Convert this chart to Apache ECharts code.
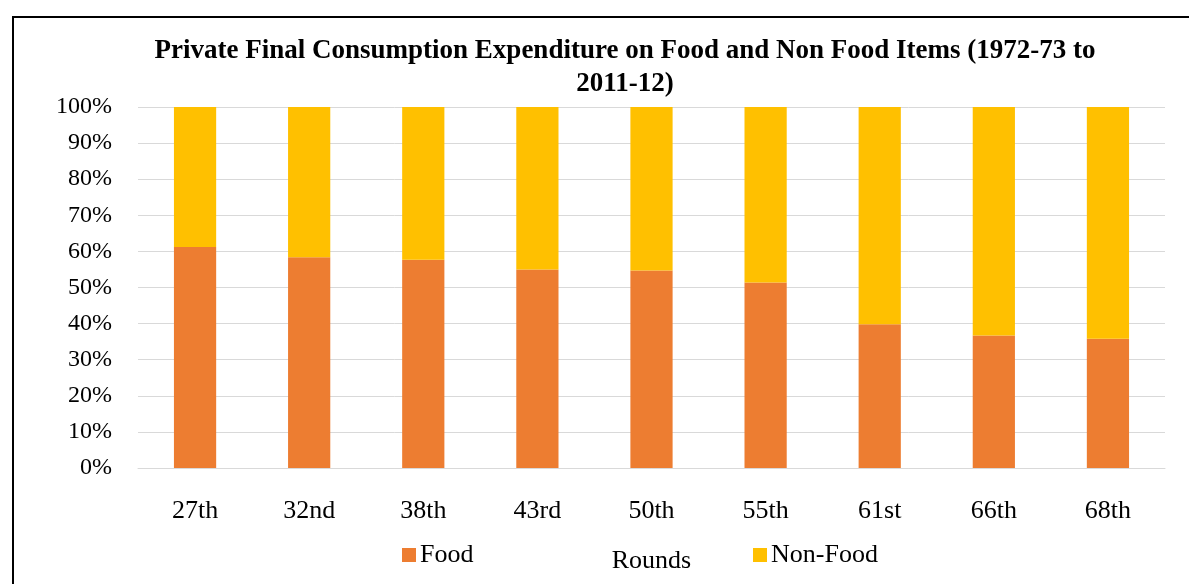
<!DOCTYPE html>
<html>
<head>
<meta charset="utf-8">
<style>
  html, body { margin: 0; padding: 0; background: #fff; }
  #chart { width: 1189px; height: 584px; }
</style>
<script src="https://cdn.jsdelivr.net/npm/echarts@6/dist/echarts.min.js"></script>
</head>
<body>
<div id="chart"></div>
<script>
// NSS rounds and share of consumption expenditure (%)
const rounds = ['27th', '32nd', '38th', '43rd', '50th', '55th', '61st', '66th', '68th'];
const foodShare = [61.2, 58.4, 57.7, 55.0, 54.7, 51.4, 39.8, 36.7, 35.8];
const nonFoodShare = [38.8, 41.6, 42.3, 45.0, 45.3, 48.6, 60.2, 63.3, 64.2];
const yTicks = [0, 10, 20, 30, 40, 50, 60, 70, 80, 90, 100];

const serif = '"Liberation Serif", "Times New Roman", serif';
const chart = echarts.init(document.getElementById('chart'));

const legendText = { fontFamily: serif, fontSize: 26, color: '#000', padding: [0, 0, 0, -1] };

chart.setOption({
  animation: false,
  backgroundColor: '#ffffff',
  title: {
    text: 'Private Final Consumption Expenditure on Food and Non Food Items (1972-73 to\n2011-12)',
    left: 620,
    textAlign: 'center',
    top: 30,
    textStyle: {
      fontFamily: serif,
      fontWeight: 'bold',
      fontSize: 27,
      lineHeight: 33,
      color: '#000'
    }
  },
  legend: [
    {
      data: ['Food'],
      left: 402,
      top: 542,
      padding: 0,
      itemWidth: 14,
      itemHeight: 14,
      itemGap: 4,
      icon: 'rect',
      textStyle: legendText
    },
    {
      data: ['Non-Food'],
      left: 753,
      top: 542,
      padding: 0,
      itemWidth: 14,
      itemHeight: 14,
      icon: 'rect',
      textStyle: legendText
    }
  ],
  grid: {
    left: 138,
    right: 24,
    top: 107,
    bottom: 116,
    containLabel: false
  },
  xAxis: {
    type: 'category',
    data: rounds,
    name: 'Rounds',
    nameLocation: 'middle',
    nameGap: 80,
    nameTextStyle: { fontFamily: serif, fontSize: 26, color: '#000' },
    axisLine: { lineStyle: { color: '#d9d9d9', width: 1 } },
    axisTick: { show: false },
    axisLabel: {
      fontFamily: serif,
      fontSize: 26,
      color: '#000',
      margin: 30
    }
  },
  yAxis: {
    type: 'value',
    min: 0,
    max: 100,
    interval: 10,
    axisLine: { show: false },
    axisTick: { show: false },
    splitLine: { lineStyle: { color: '#d9d9d9', width: 1 } },
    axisLabel: {
      fontFamily: serif,
      fontSize: 24,
      color: '#000',
      margin: 26,
      padding: [6, 0, 0, 0],
      formatter: function (v) { return yTicks.includes(v) ? v + '%' : ''; }
    }
  },
  series: [
    {
      name: 'Food',
      type: 'bar',
      stack: 'share',
      data: foodShare,
      barWidth: '37%',
      itemStyle: { color: '#ED7D31' }
    },
    {
      name: 'Non-Food',
      type: 'bar',
      stack: 'share',
      data: nonFoodShare,
      barWidth: '37%',
      itemStyle: { color: '#FFC000' }
    }
  ],
  graphic: [
    {
      type: 'rect',
      shape: { x: 13, y: 17, width: 1200, height: 600 },
      style: { fill: 'none', stroke: '#000', lineWidth: 2 },
      silent: true
    }
  ]
});
</script>
</body>
</html>
